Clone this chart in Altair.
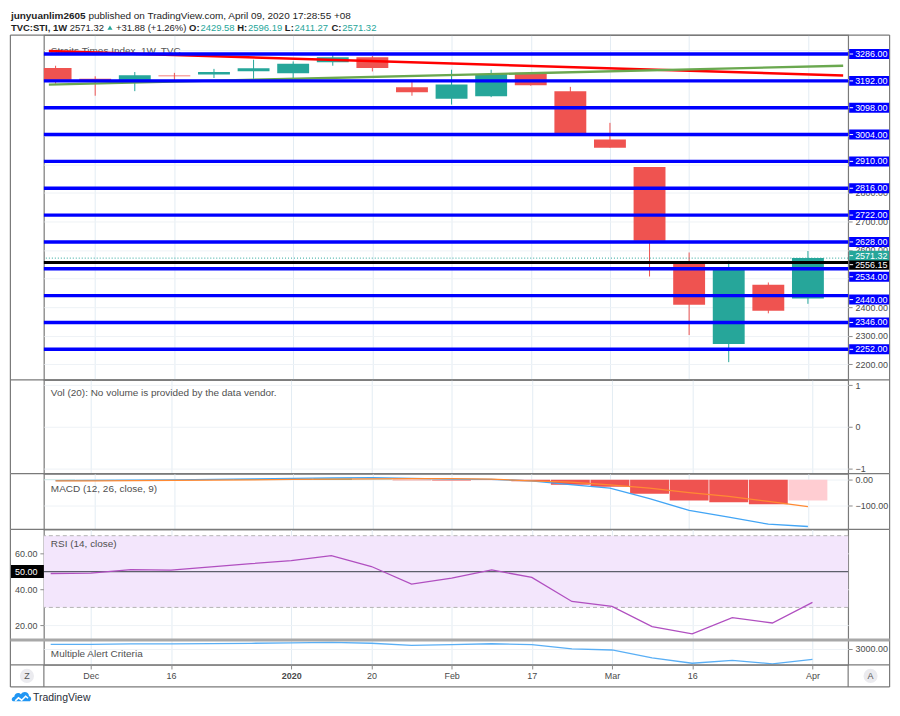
import altair as alt
import pandas as pd

# ---------------- values ----------------
weeks = list(range(20))  # weekly bars, Nov 25 2019 ... Apr 6 2020
opens = [3237, 3199, 3193, 3211, 3214, 3226, 3219, 3257, 3275, 3170,
         3129, 3138, 3220, 3156, 2987, 2890, 2556, 2271, 2478, 2429.58]
highs = [3245, 3208, 3223, 3220, 3234, 3266, 3260, 3284, 3279, 3190,
         3231, 3231, 3222, 3171, 3045, 2890, 2591, 2562, 2486, 2596.19]
lows = [3182, 3140, 3156, 3190, 3202, 3199, 3191, 3245, 3225, 3140,
        3109, 3135, 3175, 3004, 2958, 2507, 2302, 2207, 2378, 2411.27]
closes = [3192, 3192, 3212, 3208, 3223, 3236, 3252, 3275, 3237, 3152,
          3179, 3216, 3177, 3007, 2958, 2632, 2408, 2531, 2387, 2571.32]
macd_line = [-3, -2, -1, 0, 2, 4, 6, 8, 9, 6,
             3, 2, -4, -18, -32, -72, -118, -144, -171, -180]
signal_line = [-4, -3.5, -3, -2, -1, 0, 2, 3, 4, 5,
               5, 3, -4, -9, -19, -32, -49, -64, -83, -103]
macd_hist = [2, 1.5, 1.5, 1, 2, 3, 4, 5, 3, -1,
             -2, -1, -5, -19, -27, -54, -80, -86, -94, -80]
rsi_values = [48.9, 49.1, 51.1, 50.8, 52.6, 54.4, 56.1, 58.9, 52.8, 43.0,
              46.3, 50.9, 46.7, 33.3, 30.6, 19.3, 15.2, 24.3, 21.3, 32.8]
h_levels = [3286, 3192, 3098, 3004, 2910, 2816, 2722, 2628, 2534, 2440, 2346, 2252]
black_level = 2556.15
last_price = 2571.32
trend_x_ends = [-0.17, 19.89]
red_trend_ends = [3296, 3211]
green_trend_ends = [3179, 3245]
time_tick_pos = [1, 3, 6, 8, 10, 12, 14, 16, 19]
time_tick_text = ["Dec", "16", "2020", "20", "Feb", "17", "Mar", "16", "Apr"]
price_tick_values = list(range(2200, 3400, 100))
price_tick_shown = [2200, 2300, 2400, 2600, 2700, 2800]
vol_ticks = [-1, 0, 1]
macd_ticks = [0, -100]
rsi_ticks = [20, 40, 60]
alert_ticks = [3000]

header_line1 = [("junyuanlim2605", True, "dark", 1),
                ("published on TradingView.com, April 09, 2020 17:28:55 +08", False, "dark", 0)]
header_line2 = [("TVC:STI, 1W", True, "dark", 1), ("2571.32", False, "dark", 1),
                ("▲", False, "teal", 1), ("+31.88 (+1.26%)", False, "dark", 1),
                ("O:", True, "dark", 0.3), ("2429.58", False, "teal", 1),
                ("H:", True, "dark", 0.3), ("2596.19", False, "teal", 1),
                ("L:", True, "dark", 0.3), ("2411.27", False, "teal", 1),
                ("C:", True, "dark", 0.3), ("2571.32", False, "teal", 0)]

# ---------------- layout / style ----------------
W = 807
H_PRICE, H_VOL, H_MACD, H_RSI, H_ALERT = 346, 94, 56, 111, 25
AXIS_H = 22
LEFT, RIGHT = -33.6, W + 41.6
BOX_W, BOX_H = 41, 10
FONT = "Liberation Sans"
TEAL, RED = "#26a69a", "#ef5350"
LTEAL, PINK = "#b2dfdb", "#ffcdd2"
BLUE = "#0000ff"
DARK = "#1e1e1e"
LABEL = "#4a4a4a"
PANE_TXT = "#505050"
TICK = "#8c8c8c"
FRAME = "#7a7a7a"
VGRID = "#e3ecf3"
HGRID = "#eef2f6"
COLORS = {"dark": DARK, "teal": TEAL}

XSCALE = alt.Scale(domain=[-0.17, 19.89], nice=False, zero=False)
PRICE_SCALE = alt.Scale(domain=[2144.8, 3352.3], nice=False, zero=False)
PTS_PER_PX = (3352.3 - 2144.8) / H_PRICE
VOL_SCALE = alt.Scale(domain=[-1.127, 1.127], nice=False, zero=False)
MACD_SCALE = alt.Scale(domain=[-191.2, 24.2], nice=False, zero=False)
RSI_SCALE = alt.Scale(domain=[11.8, 73.5], nice=False, zero=False)
ALERT_SCALE = alt.Scale(domain=[2338, 3370], nice=False, zero=False)

one = pd.DataFrame({"k": [0]})
base1 = alt.Chart(one)


def right_axis(values, expr, grid=True):
    return alt.Axis(orient="right", values=values, labelExpr=expr, grid=grid, gridColor=HGRID,
                    domain=False, ticks=True, tickSize=4, tickColor=TICK, labelPadding=3,
                    labelColor=LABEL, labelFontSize=9, labelOverlap=False, labelFlush=False,
                    title=None)


shown = "[" + ",".join(str(v) for v in price_tick_shown) + "]"
PRICE_AXIS = right_axis(price_tick_values,
                        f"indexof({shown}, datum.value) >= 0 ? format(datum.value, '.2f') : ''")
VOL_AXIS = right_axis(vol_ticks, "format(datum.value, 'd')")
MACD_AXIS = right_axis(macd_ticks, "replace(format(datum.value, '.2f'), '-', '\u2212')")
ALERT_AXIS = right_axis(alert_ticks, "format(datum.value, '.2f')")
RSI_AXIS = alt.Axis(orient="left", values=rsi_ticks, format=".2f", grid=True, gridColor=HGRID,
                    domain=False, ticks=True, tickSize=4, tickColor=TICK, labelPadding=3,
                    labelColor=LABEL, labelFontSize=9, labelOverlap=False, labelFlush=False,
                    title=None)


def xenc(labels=False):
    if labels:
        arr = ["''"] * 20
        for p, t in zip(time_tick_pos, time_tick_text):
            arr[p] = "'" + t + "'"
        expr = "[" + ",".join(arr) + "][datum.value]"
        axis = alt.Axis(values=time_tick_pos, grid=True, gridColor=VGRID, domain=False,
                        ticks=True, tickSize=4, tickColor=TICK, labels=True, labelExpr=expr,
                        labelFontWeight={"condition": {"test": "datum.value == 6", "value": "bold"},
                                         "value": "normal"},
                        labelPadding=3, labelColor=LABEL, labelFontSize=9,
                        labelOverlap=False, labelFlush=False, title=None)
    else:
        axis = alt.Axis(values=time_tick_pos, grid=True, gridColor=VGRID, domain=False,
                        ticks=False, labels=False, title=None)
    return alt.X("i:Q", scale=XSCALE, axis=axis)


def yenc(field, scale, axis):
    return alt.Y(field, type="quantitative", scale=scale, axis=axis)


def Yp(f):
    return yenc(f, PRICE_SCALE, PRICE_AXIS)


# ---------- text width helper (Arial / Liberation Sans metrics) ----------
REG = {' ': 278, ':': 278, ',': 278, '.': 278, '(': 333, ')': 333, '+': 584, '%': 889, '-': 333,
       'T': 611, 'V': 667, 'A': 667, 'W': 944, 'N': 722, 'M': 833, 'R': 722, 'I': 278, 'S': 667,
       'C': 722, 'O': 778, 'H': 722, 'L': 556,
       'a': 556, 'b': 556, 'c': 500, 'd': 556, 'e': 556, 'f': 278, 'g': 556, 'h': 556, 'i': 222,
       'j': 222, 'k': 500, 'l': 222, 'm': 833, 'n': 556, 'o': 556, 'p': 556, 'q': 556, 'r': 333,
       's': 500, 't': 278, 'u': 556, 'v': 500, 'w': 722, 'x': 500, 'y': 500, 'z': 500}
BOLD = {' ': 278, ':': 333, ',': 278, '.': 278, 'T': 611, 'V': 667, 'C': 722, 'S': 667, 'I': 278,
        'W': 944, 'O': 778, 'H': 722, 'L': 611, 'j': 278, 'u': 611, 'n': 611, 'y': 556, 'a': 556,
        'l': 278, 'i': 278, 'm': 889}


def tw(s, bold, size):
    if s == "▲":
        return 0.7 * size
    t = BOLD if bold else REG
    return sum(556 if c.isdigit() else t.get(c, 556) for c in s) * size / 1000


def header_layers(segments, y, size):
    layers = []
    x = LEFT + 0.5
    for text, bold, col, gap in segments:
        if text == "▲":
            layers.append(base1.mark_point(shape="triangle-up", filled=True, size=26, opacity=1,
                                           color=COLORS[col])
                          .encode(x=alt.value(x + 0.35 * size), y=alt.value(y - 0.5)))
        else:
            layers.append(base1.mark_text(align="left", baseline="middle", font=FONT, fontSize=size,
                                          fontWeight="bold" if bold else "normal", color=COLORS[col])
                          .encode(x=alt.value(x), y=alt.value(y), text=alt.value(text)))
        x += tw(text, bold, size) + gap * 0.278 * size
    return layers


def frame_layers(h, extra=0):
    return [
        base1.mark_rule(color=FRAME, strokeWidth=1.2).encode(
            x=alt.value(LEFT), x2=alt.value(RIGHT), y=alt.value(0)),
        base1.mark_rule(color=FRAME, strokeWidth=1.2).encode(
            x=alt.value(LEFT), y=alt.value(0), y2=alt.value(h + extra)),
        base1.mark_rule(color=FRAME, strokeWidth=1.2).encode(
            x=alt.value(RIGHT), y=alt.value(0), y2=alt.value(h + extra)),
    ]


def pane_label(text, y):
    return base1.mark_text(align="left", baseline="middle", font=FONT, fontSize=10,
                           color=PANE_TXT).encode(x=alt.value(7), y=alt.value(y),
                                                  text=alt.value(text))


def box_path(w, h):
    r = h / w
    return f"M-1,-{r:.4f}H1V{r:.4f}H-1Z"


# ---------------- price pane ----------------
candles = pd.DataFrame({"i": weeks, "open": opens, "high": highs, "low": lows, "close": closes})
candle_color = alt.condition("datum.close >= datum.open", alt.value(TEAL), alt.value(RED))

wicks = alt.Chart(candles).mark_rule(strokeWidth=1, clip=True).encode(
    x=xenc(), y=Yp("low"), y2="high", color=candle_color)
bodies = alt.Chart(candles).mark_bar(size=32, clip=True).encode(
    x=xenc(), y=Yp("open"), y2="close", color=candle_color)

red_df = pd.DataFrame({"i": trend_x_ends, "p": red_trend_ends})
green_df = pd.DataFrame({"i": trend_x_ends, "p": green_trend_ends})
red_line = alt.Chart(red_df).mark_line(color="#ff0000", strokeWidth=2.6, clip=True).encode(
    x=xenc(), y=Yp("p"))
green_line = alt.Chart(green_df).mark_line(color="#6aa84f", strokeWidth=2.4, clip=True).encode(
    x=xenc(), y=Yp("p"))

# label boxes that TradingView nudges apart so they do not collide (pixels)
shift_px = {2534: 8, 2440: 4}
lv = pd.DataFrame({"level": h_levels})
lv["label_at"] = [v - shift_px.get(v, 0) * PTS_PER_PX for v in h_levels]
lv["txt"] = [f"{v:.2f}" for v in h_levels]
blue_rules = alt.Chart(lv).mark_rule(color=BLUE, strokeWidth=3.4).encode(y=Yp("level"))

last_df = pd.DataFrame({"p": [last_price], "txt": [f"{last_price:.2f}"]})
last_df["label_at"] = last_df["p"] + 2.5 * PTS_PER_PX
black_df = pd.DataFrame({"p": [black_level], "txt": [f"{black_level:.2f}"]})
black_df["label_at"] = black_df["p"] - 2.2 * PTS_PER_PX
teal_rule = alt.Chart(last_df).mark_rule(color=TEAL, strokeWidth=1, strokeDash=[1, 2]).encode(y=Yp("p"))
black_rule = alt.Chart(black_df).mark_rule(color="#000000", strokeWidth=3).encode(y=Yp("p"))

BOX = box_path(BOX_W, BOX_H)


def label_box(df, field, color):
    return [
        alt.Chart(df).mark_point(shape=BOX, filled=True, size=BOX_W ** 2, opacity=1, color=color)
        .encode(x=alt.value(W + 1 + BOX_W / 2), y=Yp(field)),
        alt.Chart(df).mark_rule(color="white", strokeWidth=1)
        .encode(x=alt.value(W + 1.5), x2=alt.value(W + 5), y=Yp(field)),
        alt.Chart(df).mark_text(align="left", baseline="middle", font=FONT, fontSize=9, color="white")
        .encode(x=alt.value(W + 7), y=Yp(field), text="txt:N"),
    ]


title_txt = base1.mark_text(align="left", baseline="middle", font=FONT, fontSize=10,
                            color="#555555").encode(
    x=alt.value(7), y=alt.value(16), text=alt.value("Straits Times Index, 1W, TVC"))

price_layers = ([title_txt, wicks, bodies, red_line, green_line, blue_rules, teal_rule, black_rule]
                + label_box(lv, "label_at", BLUE)
                + label_box(black_df, "label_at", "#000000")
                + label_box(last_df, "label_at", TEAL)
                + frame_layers(H_PRICE)
                + header_layers(header_line1, -19.5, 10)
                + header_layers(header_line2, -7, 9.5))
price = alt.layer(*price_layers).properties(width=W, height=H_PRICE)

# ---------------- volume pane ----------------
vol_df = pd.DataFrame({"i": [0, 19], "v": [-1, 1]})
vol_anchor = alt.Chart(vol_df).mark_point(opacity=0).encode(
    x=xenc(), y=yenc("v", VOL_SCALE, VOL_AXIS))
vol = alt.layer(vol_anchor, pane_label("Vol (20): No volume is provided by the data vendor.", 13),
                *frame_layers(H_VOL)).properties(width=W, height=H_VOL)

# ---------------- MACD pane ----------------
cols = []
for k, v in enumerate(macd_hist):
    prev = macd_hist[k - 1] if k > 0 else v
    if v >= 0:
        cols.append(TEAL if v > prev else LTEAL)
    else:
        cols.append(RED if v < prev else PINK)
macd_df = pd.DataFrame({"i": weeks, "hist": macd_hist, "col": cols,
                        "macd": macd_line, "signal": signal_line})
hist_bars = alt.Chart(macd_df).mark_bar(size=39, clip=True).encode(
    x=xenc(), y=yenc("hist", MACD_SCALE, MACD_AXIS), y2=alt.datum(0),
    color=alt.Color("col:N", scale=None))
macd_l = alt.Chart(macd_df).mark_line(color="#42a5f5", strokeWidth=1.3).encode(
    x=xenc(), y=yenc("macd", MACD_SCALE, MACD_AXIS))
signal_l = alt.Chart(macd_df).mark_line(color="#ff8a33", strokeWidth=1.3).encode(
    x=xenc(), y=yenc("signal", MACD_SCALE, MACD_AXIS))
macd = alt.layer(hist_bars, macd_l, signal_l, pane_label("MACD (12, 26, close, 9)", 15),
                 *frame_layers(H_MACD)).properties(width=W, height=H_MACD)

# ---------------- RSI pane ----------------
band_df = pd.DataFrame({"top": [70], "bot": [30]})
band = alt.Chart(band_df).mark_rect(color="#f3e6fc", opacity=1).encode(
    x=alt.value(0), x2=alt.value(W), y=yenc("top", RSI_SCALE, RSI_AXIS), y2="bot")
dash_df = pd.DataFrame({"r": [70, 30]})
dashes = alt.Chart(dash_df).mark_rule(color="#b4b4b4", strokeWidth=1, strokeDash=[4, 3]).encode(
    y=yenc("r", RSI_SCALE, RSI_AXIS))
mid_df = pd.DataFrame({"r": [50], "txt": ["50.00"]})
mid_rule = alt.Chart(mid_df).mark_rule(color="#5d606b", strokeWidth=1.2).encode(
    y=yenc("r", RSI_SCALE, RSI_AXIS))
rsi_df = pd.DataFrame({"i": weeks, "rsi": rsi_values})
rsi_line = alt.Chart(rsi_df).mark_line(color="#b04fc0", strokeWidth=1.3).encode(
    x=xenc(), y=yenc("rsi", RSI_SCALE, RSI_AXIS))
mid_box = alt.Chart(mid_df).mark_point(shape=box_path(33.5, 13), filled=True, size=33.5 ** 2,
                                       opacity=1, color="#000000").encode(
    x=alt.value(-16.75), y=yenc("r", RSI_SCALE, RSI_AXIS))
mid_txt = alt.Chart(mid_df).mark_text(align="left", baseline="middle", font=FONT, fontSize=9,
                                      color="white").encode(
    x=alt.value(-29), y=yenc("r", RSI_SCALE, RSI_AXIS), text="txt:N")
rsi = alt.layer(band, dashes, mid_rule, rsi_line, mid_box, mid_txt,
                pane_label("RSI (14, close)", 14.5), *frame_layers(H_RSI)).properties(
    width=W, height=H_RSI)

# ---------------- Multiple Alert Criteria pane + time axis ----------------
alert_df = pd.DataFrame({"i": weeks, "c": closes})
alert_line = alt.Chart(alert_df).mark_line(color="#5aaff5", strokeWidth=1.3).encode(
    x=xenc(labels=True), y=yenc("c", ALERT_SCALE, ALERT_AXIS))
sep = base1.mark_rule(color="#a8a8a8", strokeWidth=3).encode(
    x=alt.value(LEFT), x2=alt.value(RIGHT), y=alt.value(0))
axis_frame = [
    base1.mark_rule(color=FRAME, strokeWidth=1.2).encode(
        x=alt.value(LEFT), x2=alt.value(RIGHT), y=alt.value(H_ALERT)),
    base1.mark_rule(color=FRAME, strokeWidth=1.2).encode(
        x=alt.value(LEFT), x2=alt.value(RIGHT), y=alt.value(H_ALERT + AXIS_H)),
    base1.mark_rule(color=FRAME, strokeWidth=1.2).encode(
        x=alt.value(0), y=alt.value(H_ALERT), y2=alt.value(H_ALERT + AXIS_H)),
    base1.mark_rule(color=FRAME, strokeWidth=1.2).encode(
        x=alt.value(W), y=alt.value(H_ALERT), y2=alt.value(H_ALERT + AXIS_H)),
]
buttons = []
for bx, letter in [(-17, "Z"), (W + 22.5, "A")]:
    buttons.append(base1.mark_point(shape="circle", filled=True, size=200, opacity=1,
                                    color="#ebebef").encode(
        x=alt.value(bx), y=alt.value(H_ALERT + 11)))
    buttons.append(base1.mark_text(align="center", baseline="middle", font=FONT, fontSize=9,
                                   color="#555555").encode(
        x=alt.value(bx), y=alt.value(H_ALERT + 11), text=alt.value(letter)))

CLOUD = ("M-0.75,0.45 C-1.05,0.45 -1.05,0.02 -0.72,-0.02 C-0.7,-0.38 -0.28,-0.52 -0.05,-0.26 "
         "C0.15,-0.62 0.75,-0.52 0.76,-0.06 C1.05,-0.02 1.05,0.45 0.75,0.45 Z")
ZIG = "M-0.62,0.3 L-0.3,0.0 L0.02,0.24 L0.42,-0.16 L0.66,0.04"
FOOT_Y = 58
logo = [
    base1.mark_point(shape=CLOUD, filled=True, size=400, opacity=1, color="#2196f3").encode(
        x=alt.value(-22.5), y=alt.value(FOOT_Y - 1)),
    base1.mark_point(shape=ZIG, filled=False, size=400, opacity=1, color="white",
                     strokeWidth=1.6).encode(x=alt.value(-22.5), y=alt.value(FOOT_Y)),
    base1.mark_text(align="left", baseline="middle", font=FONT, fontSize=10.5,
                    color="#2a2e39").encode(x=alt.value(-11), y=alt.value(FOOT_Y),
                                            text=alt.value("TradingView")),
]
alert = alt.layer(alert_line, pane_label("Multiple Alert Criteria", 14),
                  *frame_layers(H_ALERT, AXIS_H), sep, *axis_frame, *buttons, *logo).properties(
    width=W, height=H_ALERT)

chart = (alt.vconcat(price, vol, macd, rsi, alert, spacing=0, bounds="flush")
         .properties(padding=0)
         .configure(font=FONT)
         .configure_view(stroke=FRAME, strokeWidth=1.2)
         .configure_axis(labelFont=FONT))

chart.save("out.html", embed_options={"renderer": "svg", "actions": False})
